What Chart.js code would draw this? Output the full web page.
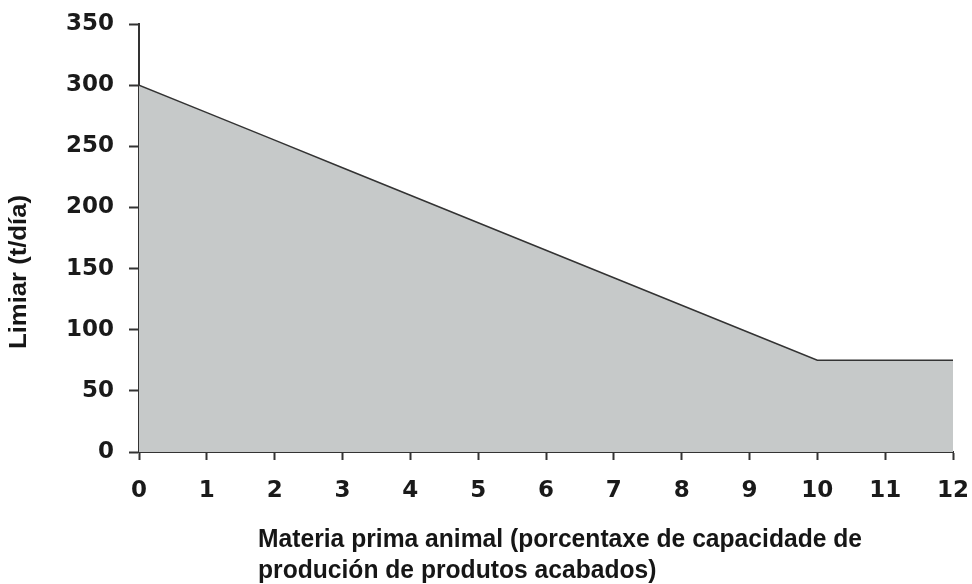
<!DOCTYPE html>
<html>
<head>
<meta charset="utf-8">
<script src="https://cdn.jsdelivr.net/npm/chart.js@4/dist/chart.umd.min.js"></script>
<style>
  html, body { margin: 0; padding: 0; background: #fff; }
  #wrap { position: relative; width: 972px; height: 584px; }
  canvas { display: block; }
</style>
</head>
<body>
<div id="wrap"><canvas id="c" width="972" height="584"></canvas></div>
<script>
// Data
const xValues = [0, 1, 2, 3, 4, 5, 6, 7, 8, 9, 10, 11, 12];
const thresholdValues = [300, 277.5, 255, 232.5, 210, 187.5, 165, 142.5, 120, 97.5, 75, 75, 75];
const yTicks = [0, 50, 100, 150, 200, 250, 300, 350];
const xTitleLines = ["Materia prima animal (porcentaxe de capacidade de", "produción de produtos acabados)"];
const yTitle = "Limiar (t/día)";

const points = xValues.map((x, i) => ({ x: x, y: thresholdValues[i] }));

function fitText(ctx, text, x, y, targetWidth) {
  const w = ctx.measureText(text).width;
  const s = targetWidth / w;
  ctx.save();
  ctx.translate(x, y);
  ctx.scale(s, 1);
  ctx.fillText(text, 0, 0);
  ctx.restore();
  return s;
}

const titlesPlugin = {
  id: 'titles',
  afterDraw(chart) {
    const ctx = chart.ctx;
    ctx.save();
    ctx.fillStyle = '#161616';
    ctx.font = 'bold 25px "Liberation Sans", Arial, sans-serif';
    ctx.textAlign = 'left';
    ctx.textBaseline = 'alphabetic';
    const s = fitText(ctx, xTitleLines[0], 258, 547, 604);
    ctx.save();
    ctx.translate(258, 578);
    ctx.scale(s, 1);
    ctx.fillText(xTitleLines[1], 0, 0);
    ctx.restore();
    // y title
    ctx.translate(20, 272);
    ctx.rotate(-Math.PI / 2);
    ctx.textAlign = 'left';
    ctx.textBaseline = 'middle';
    ctx.font = 'bold 23px "Liberation Sans", Arial, sans-serif';
    fitText(ctx, yTitle, -77, 0, 154);
    ctx.restore();
  }
};

new Chart(document.getElementById('c'), {
  type: 'line',
  data: {
    datasets: [{
      data: points,
      borderColor: '#333333',
      borderWidth: 1.5,
      backgroundColor: '#c6c9c9',
      fill: 'origin',
      pointRadius: 0,
      tension: 0
    }]
  },
  options: {
    responsive: false,
    animation: false,
    devicePixelRatio: 1,
    layout: { padding: { left: 0, right: 19, top: 24, bottom: 0 } },
    plugins: { legend: { display: false }, tooltip: { enabled: false } },
    scales: {
      x: {
        type: 'linear',
        min: 0, max: 12,
        afterBuildTicks(scale) { scale.ticks = xValues.map(v => ({ value: v })); },
        afterFit(scale) { scale.height = 132; scale.paddingLeft = 0; scale.paddingRight = 0; },
        grid: { drawOnChartArea: false, tickLength: 8, color: '#333', tickWidth: 2 },
        border: { color: '#333', width: 2 },
        ticks: {
          color: '#1a1a1a',
          padding: 17,
          maxRotation: 0,
          font: { family: '"DejaVu Sans", Verdana, sans-serif', weight: 'bold', size: 23 }
        }
      },
      y: {
        min: 0, max: 350,
        afterBuildTicks(scale) { scale.ticks = yTicks.map(v => ({ value: v })); },
        afterFit(scale) { scale.width = 139; scale.paddingTop = 0; scale.paddingBottom = 0; },
        grid: { drawOnChartArea: false, tickLength: 10, color: '#333', tickWidth: 2 },
        border: { color: '#333', width: 2 },
        ticks: {
          color: '#1a1a1a',
          padding: 15,
          font: { family: '"DejaVu Sans", Verdana, sans-serif', weight: 'bold', size: 23 }
        }
      }
    }
  },
  plugins: [titlesPlugin]
});
</script>
</body>
</html>
